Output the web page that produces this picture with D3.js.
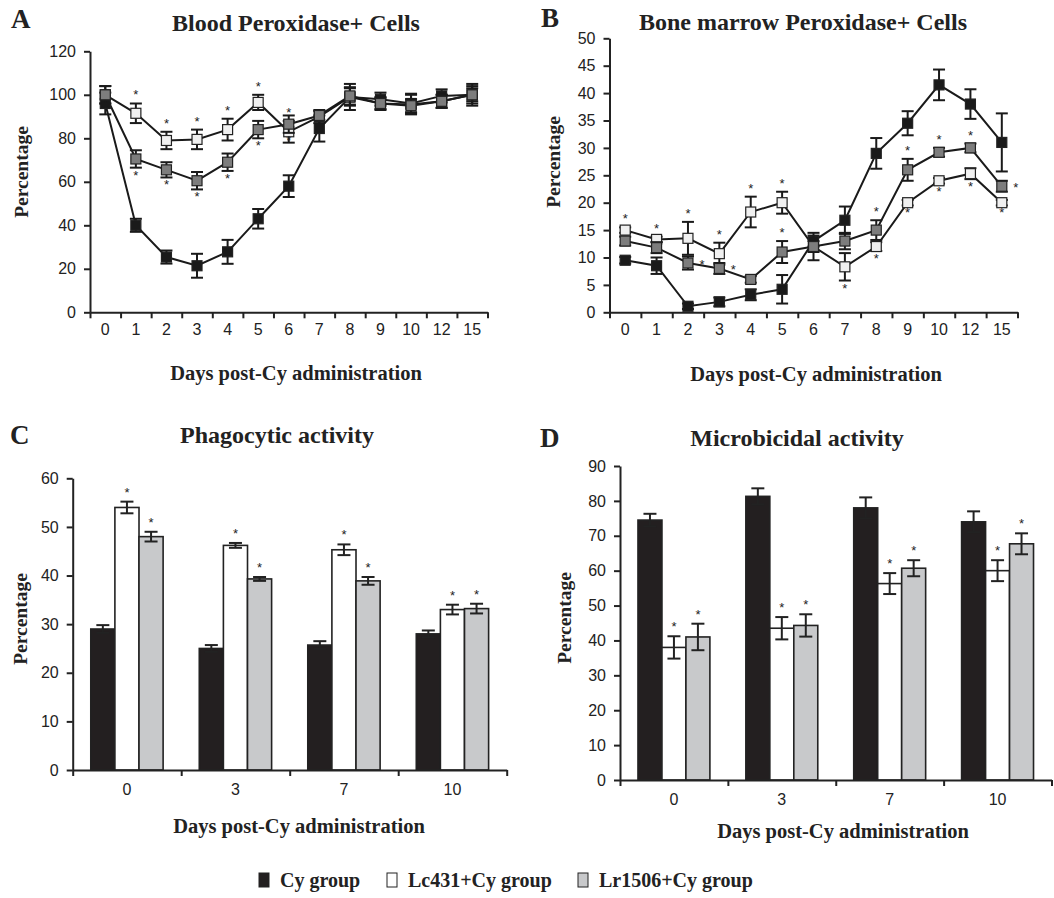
<!DOCTYPE html>
<html>
<head>
<meta charset="utf-8">
<script src="https://cdn.jsdelivr.net/npm/d3@7"></script>
<style>
  body { margin: 0; background: #fff; }
  .domain, .tick line { stroke: #222; stroke-width: 2; }
  .serif { font-family: "Liberation Serif", "Times New Roman", serif; font-weight: bold; fill: #222; }
</style>
</head>
<body>
<svg id="fig" width="1054" height="898"></svg>
<script>
// ---- data ----
var groups = ["Cy group", "Lc431+Cy group", "Lr1506+Cy group"];
var groupFill = ["#231f20", "#ffffff", "#c8c9cb"];
var markerFill = ["#1a1a1a", "#f0f0f0", "#7d7d7d"];

var daysLine = ["0", "1", "2", "3", "4", "5", "6", "7", "8", "9", "10", "12", "15"];

// A: Blood Peroxidase+ cells
var bloodCy    = [96, 40, 25.4, 21.4, 27.8, 43, 58, 84.5, 99, 98, 96, 99.5, 100];
var bloodCyErr = [5, 3, 3, 5.5, 5.5, 4.5, 5, 6, 6, 3, 4.5, 3, 5];
var bloodLc    = [100, 91.5, 79, 79.5, 84, 96.5, 83, 90, 99, 96, 95.5, 97, 100];
var bloodLcErr = [4, 4.5, 4, 4.5, 5, 3.5, 5, 3, 4, 2.5, 4.5, 3, 4];
var bloodLr    = [100, 70.5, 65.5, 60.5, 69, 84, 86.5, 90.5, 99.5, 96, 95, 97, 100];
var bloodLrErr = [4, 4, 3.5, 4, 4, 4, 4, 2, 4, 3, 3, 3, 3];
var bloodLcStar = ["", "a", "a", "a", "a", "a", "a", "", "", "", "", "", ""];
var bloodLrStar = ["", "b", "b", "b", "b", "b", "b", "", "", "", "", "", ""];

// B: Bone marrow Peroxidase+ cells
var marrowCy    = [9.5, 8.5, 1.1, 1.9, 3.2, 4.2, 13, 16.8, 29, 34.5, 41.5, 38, 31];
var marrowCyErr = [0.6, 1.5, 0.5, 0.8, 1, 2.6, 1, 2.5, 2.8, 2.2, 2.8, 2.7, 5.3];
var marrowLc    = [15, 13.3, 13.5, 10.7, 18.3, 20, 12, 8.3, 12, 20, 24, 25.3, 20];
var marrowLcErr = [0.5, 0.5, 3, 2, 2.8, 2, 2.5, 2.5, 0.8, 0.5, 0.5, 1, 0.5];
var marrowLr    = [13, 11.8, 9, 8, 6, 11, 12, 13, 15, 26, 29.2, 30, 23];
var marrowLrErr = [0.8, 1, 1.2, 1, 0.6, 2, 1, 1.5, 1.8, 2, 0.8, 0.8, 1];
var marrowLcStar = ["a", "a", "a", "a", "a", "a", "", "b", "b", "b", "b", "b", "b"];
var marrowLrStar = ["", "", "r", "r", "", "a", "", "", "a", "a", "a", "a", "r"];

// C & D: bar charts
var daysBar = ["0", "3", "7", "10"];
var phagoCy = [29, 25, 25.7, 28];
var phagoCyErr = [0.8, 0.7, 0.8, 0.7];
var phagoLc = [54, 46.2, 45.3, 33];
var phagoLcErr = [1.2, 0.5, 1.1, 1];
var phagoLr = [48, 39.3, 38.9, 33.2];
var phagoLrErr = [1, 0.4, 0.8, 1];

var microCy = [74.5, 81.3, 78, 74];
var microCyErr = [1.8, 2.3, 3, 3];
var microLc = [38, 43.5, 56.3, 60];
var microLcErr = [3.2, 3.2, 3, 3];
var microLr = [41, 44.3, 60.7, 67.7];
var microLrErr = [3.8, 3.2, 2.3, 3];

var svg = d3.select("#fig");

function styleTicks(sel) {
    sel.selectAll("text")
        .style("font-family", "Liberation Sans, Arial, sans-serif")
        .style("font-size", "16px")
        .style("fill", "#222");
    return sel;
}

function panelText(opt) {
    svg.append("text").attr("class", "serif").attr("x", opt.letter[1]).attr("y", opt.letter[2])
        .style("font-size", "27px").text(opt.letter[0]);
    svg.append("text").attr("class", "serif").attr("x", opt.title[1]).attr("y", opt.title[2])
        .attr("text-anchor", "middle").style("font-size", "24px").text(opt.title[0]);
    // y label
    svg.append("text").attr("class", "serif")
        .attr("transform", "translate(" + opt.ylab[0] + "," + opt.ylab[1] + ") rotate(-90)")
        .attr("text-anchor", "middle").style("font-size", "19.5px").text("Percentage");
    // x label
    svg.append("text").attr("class", "serif")
        .attr("x", opt.xlab[0]).attr("y", opt.xlab[1])
        .attr("text-anchor", "middle").style("font-size", "20.5px").text("Days post-Cy administration");
}

function star(g, x, y) {
    g.append("text").attr("x", x).attr("y", y)
        .attr("text-anchor", "middle")
        .style("font-family", "Liberation Sans, Arial, sans-serif").style("font-size", "13px").style("fill", "#222")
        .text("*");
}

function drawLinePanel(opt) {
    var w = opt.right - opt.left, h = opt.bottom - opt.top;
    var g = svg.append("g").attr("transform", "translate(" + opt.left + "," + opt.top + ")");

    var x = d3.scaleBand().domain(daysLine).range([0, w]);
    var xEdge = d3.scaleLinear().domain([0, daysLine.length]).range([0, w]);
    var y = d3.scaleLinear().domain([0, opt.ymax]).range([h, 0]);

    styleTicks(g.append("g").call(d3.axisLeft(y).tickValues(d3.range(0, opt.ymax + 1, opt.step)).tickSize(6).tickSizeOuter(0).tickPadding(8)));
    g.append("g").attr("transform", "translate(0," + h + ")")
        .call(d3.axisBottom(xEdge).tickValues(d3.range(daysLine.length + 1)).tickFormat("").tickSize(6).tickSizeOuter(0));
    styleTicks(g.append("g").attr("transform", "translate(0," + h + ")")
        .call(d3.axisBottom(x).tickSize(0).tickPadding(11)))
        .select(".domain").remove();

    var cx = function(d) { return x(d.day) + x.bandwidth() / 2; };

    var all = opt.series.map(function(s) {
        return s.values.map(function(v, i) { return {day: daysLine[i], v: v, e: s.err[i], star: s.star ? s.star[i] : ""}; });
    });

    all.forEach(function(pts) {
        g.append("path").datum(pts)
            .attr("fill", "none").attr("stroke", "#1a1a1a").attr("stroke-width", 2)
            .attr("d", d3.line().x(cx).y(function(d) { return y(d.v); }));
    });

    all.forEach(function(pts, si) {
        var eb = g.append("g").attr("stroke", "#1a1a1a").attr("stroke-width", 2);
        pts.forEach(function(d) {
            var px = cx(d);
            eb.append("line").attr("x1", px).attr("x2", px).attr("y1", y(d.v - d.e)).attr("y2", y(d.v + d.e));
            eb.append("line").attr("x1", px - 6).attr("x2", px + 6).attr("y1", y(d.v + d.e)).attr("y2", y(d.v + d.e));
            eb.append("line").attr("x1", px - 6).attr("x2", px + 6).attr("y1", y(d.v - d.e)).attr("y2", y(d.v - d.e));
        });
        g.selectAll(".m" + si).data(pts).enter().append("rect")
            .attr("x", function(d) { return cx(d) - 5; })
            .attr("y", function(d) { return y(d.v) - 5; })
            .attr("width", 10).attr("height", 10)
            .attr("fill", markerFill[si]).attr("stroke", "#222").attr("stroke-width", 1.2);
        pts.forEach(function(d) {
            if (d.star === "a") star(g, cx(d), y(d.v + d.e) - 4);
            else if (d.star === "b") star(g, cx(d), y(d.v - d.e) + 12);
            else if (d.star === "r") star(g, cx(d) + 14, y(d.v) + 6);
        });
    });
}

function drawBarPanel(opt) {
    var w = opt.right - opt.left, h = opt.bottom - opt.top;
    var g = svg.append("g").attr("transform", "translate(" + opt.left + "," + opt.top + ")");

    var x = d3.scaleBand().domain(daysBar).range([0, w]).paddingInner(1 / 3).paddingOuter(1 / 6);
    var xEdge = d3.scaleLinear().domain([0, daysBar.length]).range([0, w]);
    var xs = d3.scaleBand().domain([0, 1, 2]).range([0, x.bandwidth()]);
    var y = d3.scaleLinear().domain([0, opt.ymax]).range([h, 0]);

    styleTicks(g.append("g").call(d3.axisLeft(y).tickValues(d3.range(0, opt.ymax + 1, 10)).tickSize(6).tickSizeOuter(0).tickPadding(8)));

    var all = opt.series.map(function(s) {
        return s.values.map(function(v, i) { return {day: daysBar[i], v: v, e: s.err[i], star: s.star}; });
    });

    all.forEach(function(pts, si) {
        g.selectAll(".b" + si).data(pts).enter().append("rect")
            .attr("x", function(d) { return x(d.day) + xs(si); })
            .attr("y", function(d) { return y(d.v); })
            .attr("width", xs.bandwidth()).attr("height", function(d) { return h - y(d.v); })
            .attr("fill", groupFill[si]).attr("stroke", "#222").attr("stroke-width", 1.6);
    });
    all.forEach(function(pts, si) {
        var eb = g.append("g").attr("stroke", "#222").attr("stroke-width", 2);
        pts.forEach(function(d) {
            var px = x(d.day) + xs(si) + xs.bandwidth() / 2;
            eb.append("line").attr("x1", px).attr("x2", px).attr("y1", y(d.v - d.e)).attr("y2", y(d.v + d.e));
            eb.append("line").attr("x1", px - 6.5).attr("x2", px + 6.5).attr("y1", y(d.v + d.e)).attr("y2", y(d.v + d.e));
            eb.append("line").attr("x1", px - 6.5).attr("x2", px + 6.5).attr("y1", y(d.v - d.e)).attr("y2", y(d.v - d.e));
            if (d.star) star(g, px, y(d.v + d.e) - 5);
        });
    });

    g.append("g").attr("transform", "translate(0," + h + ")")
        .call(d3.axisBottom(xEdge).tickValues(d3.range(daysBar.length + 1)).tickFormat("").tickSize(6).tickSizeOuter(0));
    styleTicks(g.append("g").attr("transform", "translate(0," + h + ")")
        .call(d3.axisBottom(x).tickSize(0).tickPadding(14)))
        .select(".domain").remove();
}

panelText({letter: ["A", 11, 28], title: ["Blood Peroxidase+ Cells", 296, 31],
           ylab: [28, 172], xlab: [296, 380]});
drawLinePanel({
    left: 90, top: 51.3, right: 487.5, bottom: 312.3, ymax: 120, step: 20,
    series: [
        {values: bloodCy, err: bloodCyErr},
        {values: bloodLc, err: bloodLcErr, star: bloodLcStar},
        {values: bloodLr, err: bloodLrErr, star: bloodLrStar}
    ]
});

panelText({letter: ["B", 541, 27], title: ["Bone marrow Peroxidase+ Cells", 803, 30],
           ylab: [560, 162], xlab: [816, 381]});
drawLinePanel({
    left: 609.5, top: 38.3, right: 1017.5, bottom: 312.3, ymax: 50, step: 5,
    series: [
        {values: marrowCy, err: marrowCyErr},
        {values: marrowLc, err: marrowLcErr, star: marrowLcStar},
        {values: marrowLr, err: marrowLrErr, star: marrowLrStar}
    ]
});

panelText({letter: ["C", 10, 444], title: ["Phagocytic activity", 277, 443],
           ylab: [27, 619], xlab: [299, 833]});
drawBarPanel({
    left: 72.7, top: 478.3, right: 506.7, bottom: 770, ymax: 60,
    series: [
        {values: phagoCy, err: phagoCyErr, star: false},
        {values: phagoLc, err: phagoLcErr, star: true},
        {values: phagoLr, err: phagoLrErr, star: true}
    ]
});

panelText({letter: ["D", 540, 447], title: ["Microbicidal activity", 797, 446],
           ylab: [571, 618], xlab: [843, 838]});
drawBarPanel({
    left: 620, top: 466, right: 1051.5, bottom: 780, ymax: 90,
    series: [
        {values: microCy, err: microCyErr, star: false},
        {values: microLc, err: microLcErr, star: true},
        {values: microLr, err: microLrErr, star: true}
    ]
});

// legend
var legendX = [259, 387, 578];
var leg = svg.append("g");
groups.forEach(function(name, i) {
    leg.append("rect").attr("x", legendX[i]).attr("y", 873).attr("width", 10).attr("height", 14)
        .attr("fill", groupFill[i]).attr("stroke", "#222").attr("stroke-width", 1);
    leg.append("text").attr("class", "serif").attr("x", legendX[i] + 21).attr("y", 887)
        .style("font-size", "20px").text(name);
});
</script>
</body>
</html>
